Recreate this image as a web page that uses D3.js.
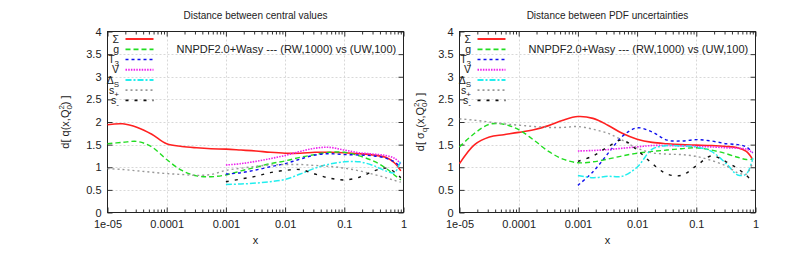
<!DOCTYPE html>
<html><head><meta charset="utf-8">
<script src="https://cdn.jsdelivr.net/npm/d3@7"></script>
<style>
body{margin:0;background:#fff;}
svg text{font-family:"Liberation Sans",Arial,sans-serif;}
</style></head>
<body><svg id="c" width="809" height="271"></svg>
<script>
// ---------- data ----------
const xFull = [1e-5,1.8e-5,3.2e-5,5.6e-5,1e-4,1.8e-4,3.2e-4,5.6e-4,1e-3,1.8e-3,3.2e-3,5.6e-3,0.01,0.018,0.032,0.056,0.1,0.18,0.32,0.5,0.7,0.9];
const xHigh = [1e-3,1.8e-3,3.2e-3,5.6e-3,0.01,0.018,0.032,0.056,0.1,0.18,0.32,0.5,0.7,0.9];

// left panel: distance between central values
const cSigma = [1.94,1.96,1.88,1.73,1.52,1.46,1.43,1.41,1.40,1.38,1.36,1.33,1.31,1.31,1.33,1.33,1.32,1.30,1.27,1.22,1.10,0.92];
const cG     = [1.52,1.55,1.57,1.45,1.17,0.93,0.81,0.79,0.83,0.92,1.00,1.08,1.14,1.22,1.28,1.33,1.33,1.25,1.13,0.98,0.83,0.72];
const cSp    = [0.97,0.95,0.92,0.89,0.86,0.84,0.82,0.84,0.93,0.98,1.02,1.05,1.06,1.06,1.04,1.02,0.98,0.92,0.84,0.77,0.71,0.67];
const cT3    = [0.85,0.88,0.94,1.01,1.08,1.18,1.27,1.30,1.28,1.27,1.25,1.20,1.12,1.00];
const cV     = [1.05,1.08,1.13,1.19,1.26,1.35,1.42,1.44,1.38,1.32,1.29,1.26,1.20,1.08];
const cDS    = [0.62,0.63,0.65,0.68,0.73,0.85,0.98,1.07,1.12,1.12,1.03,0.92,0.88,1.15];
const cSm    = [0.68,0.74,0.80,0.88,0.93,0.95,0.85,0.76,0.72,0.78,0.92,0.98,0.90,0.77];

// right panel: distance between PDF uncertainties
const uSigma = [1.08,1.50,1.67,1.72,1.77,1.83,1.92,2.04,2.12,2.08,1.93,1.75,1.62,1.55,1.52,1.50,1.49,1.48,1.46,1.43,1.35,1.17];
const uG     = [1.45,1.75,1.95,1.95,1.83,1.60,1.35,1.18,1.10,1.12,1.18,1.25,1.31,1.35,1.38,1.41,1.43,1.38,1.30,1.22,1.17,1.18];
const uSp    = [2.07,2.04,2.00,1.96,1.93,1.90,1.88,1.88,1.90,1.84,1.75,1.60,1.42,1.32,1.29,1.28,1.24,1.15,1.03,0.88,0.85,1.12];
const uT3    = [0.60,0.90,1.30,1.68,1.87,1.78,1.60,1.58,1.61,1.58,1.52,1.50,1.45,1.32];
const uV     = [1.36,1.37,1.39,1.42,1.45,1.48,1.48,1.47,1.46,1.45,1.43,1.42,1.40,1.32];
const uDS    = [0.82,0.77,0.80,0.80,1.00,1.40,1.48,1.47,1.45,1.35,1.08,0.83,0.85,1.20];
const uSm    = [1.13,1.25,1.45,1.60,1.38,1.08,0.85,0.82,1.03,1.25,1.12,0.97,0.82,0.68];

const xTicks = [1e-5,1e-4,1e-3,1e-2,1e-1,1];
const xTickLabels = ["1e-05","0.0001","0.001","0.01","0.1","1"];
const yTicks = [0,0.5,1,1.5,2,2.5,3,3.5,4];
const yTickLabels = ["0","0.5","1","1.5","2","2.5","3","3.5","4"];

const legendNames = [["Σ",""],["g",""],["T","3"],["V",""],["Δ","S"],["s","+"],["s","-"]];
const annotation = "NNPDF2.0+Wasy --- (RW,1000) vs (UW,100)";

// ---------- styles ----------
const styles = [
  {color:"#ff2020", dash:null, w:1.6},
  {color:"#22dd22", dash:"5,3", w:1.4},
  {color:"#1010ee", dash:"3,3", w:1.4},
  {color:"#ee22ee", dash:"1.5,1.2", w:1.6},
  {color:"#22eeee", dash:"6,2,2,2", w:1.5},
  {color:"#999999", dash:"2,3", w:1.4},
  {color:"#111111", dash:"3,6", w:1.4}
];

const svg = d3.select("#c");

function panel(opts){
  const L=opts.L, R=opts.R, T=31.5, B=212.5;
  const x = d3.scaleLog().domain([1e-5,1]).range([L,R]);
  const y = d3.scaleLinear().domain([0,4]).range([B,T]);
  const g = svg.append("g");

  // grid
  const gg = g.append("g").attr("stroke","#d8d8d8").attr("stroke-dasharray","2,2").attr("stroke-width",1);
  xTicks.slice(1,-1).forEach(v=>gg.append("line").attr("x1",Math.round(x(v))+0.5).attr("x2",Math.round(x(v))+0.5).attr("y1",T).attr("y2",B));
  yTicks.slice(1,-1).forEach(v=>gg.append("line").attr("x1",L).attr("x2",R).attr("y1",Math.round(y(v))+0.5).attr("y2",Math.round(y(v))+0.5));

  // minor ticks
  const minors=[];
  for(let e=-5;e<0;e++) for(let m=2;m<10;m++) minors.push(m*Math.pow(10,e));

  const fmtX = v=>xTickLabels[xTicks.findIndex(t=>Math.abs(t-v)/v<1e-6)];
  g.append("g").attr("transform",`translate(0,${B})`)
    .call(d3.axisBottom(x).tickValues(xTicks).tickFormat(fmtX).tickSize(-5).tickPadding(8));
  g.append("g").attr("transform",`translate(0,${B})`)
    .call(d3.axisBottom(x).tickValues(minors).tickFormat("").tickSize(-3));
  g.append("g").attr("transform",`translate(0,${T})`)
    .call(d3.axisTop(x).tickValues(xTicks).tickFormat("").tickSize(-5));
  g.append("g").attr("transform",`translate(0,${T})`)
    .call(d3.axisTop(x).tickValues(minors).tickFormat("").tickSize(-3));
  g.append("g").attr("transform",`translate(${L},0)`)
    .call(d3.axisLeft(y).tickValues(yTicks).tickFormat((d,i)=>yTickLabels[i]).tickSize(-5).tickPadding(6));
  g.append("g").attr("transform",`translate(${R},0)`)
    .call(d3.axisRight(y).tickValues(yTicks).tickFormat("").tickSize(-5));
  g.selectAll(".domain").remove();
  g.selectAll(".tick line").attr("stroke","#333");
  g.selectAll(".tick text").attr("font-size",11).attr("fill","#222")
    .attr("font-family","'Liberation Sans',Arial,sans-serif");

  // frame
  g.append("rect").attr("x",L).attr("y",T).attr("width",R-L).attr("height",B-T)
    .attr("fill","none").attr("stroke","#222").attr("stroke-width",1);

  // curves
  const line = d3.line().x(d=>x(d[0])).y(d=>y(d[1])).curve(d3.curveCatmullRom.alpha(0.5));
  opts.series.forEach((s,i)=>{
    const st=styles[i];
    g.append("path").datum(s.xs.map((xv,j)=>[xv,s.ys[j]]))
      .attr("d",line).attr("fill","none").attr("stroke",st.color)
      .attr("stroke-width",st.w).attr("stroke-dasharray",st.dash);
  });

  // legend
  const rowY=[39,49.3,59.5,69.8,80,90.2,100.4];
  legendNames.forEach((n,i)=>{
    const st=styles[i];
    const t=g.append("text").attr("x",L+11.5).attr("y",rowY[i]+3.5).attr("text-anchor","end")
      .attr("font-size",10.5).attr("fill","#222");
    t.append("tspan").text(n[0]);
    if(n[1]) t.append("tspan").attr("dy",3).attr("font-size",8).text(n[1]);
    g.append("line").attr("x1",L+18).attr("x2",L+46).attr("y1",rowY[i]).attr("y2",rowY[i])
      .attr("stroke",st.color).attr("stroke-width",st.w+0.3).attr("stroke-dasharray",st.dash);
  });

  // annotation
  g.append("text").attr("x",L+69).attr("y",53).attr("font-size",11).attr("fill","#222").text(annotation);

  // title
  svg.append("text").attr("x",(L+R)/2).attr("y",19).attr("text-anchor","middle")
    .attr("font-size",10).attr("fill","#222").text(opts.title);
  // x label
  svg.append("text").attr("x",(L+R)/2).attr("y",244).attr("text-anchor","middle")
    .attr("font-size",11).attr("fill","#222").text("x");
  // y label
  const yl = svg.append("text").attr("transform",`translate(${opts.ylx},122) rotate(-90)`)
    .attr("text-anchor","middle").attr("font-size",11).attr("fill","#222");
  opts.ylabel(yl);
}

panel({L:107.5,R:403.5,title:"Distance between central values",ylx:69,
  series:[{xs:xFull,ys:cSigma},{xs:xFull,ys:cG},{xs:xHigh,ys:cT3},{xs:xHigh,ys:cV},{xs:xHigh,ys:cDS},{xs:xFull,ys:cSp},{xs:xHigh,ys:cSm}],
  ylabel:t=>{
    t.append("tspan").text("d[ q(x,Q");
    t.append("tspan").attr("font-size",8).attr("dy",3).text("0");
    t.append("tspan").attr("font-size",8).attr("dx",-4.5).attr("dy",-8).text("2");
    t.append("tspan").attr("dy",5).text(") ]");
  }});
panel({L:459.5,R:755.5,title:"Distance between PDF uncertainties",ylx:424,
  series:[{xs:xFull,ys:uSigma},{xs:xFull,ys:uG},{xs:xHigh,ys:uT3},{xs:xHigh,ys:uV},{xs:xHigh,ys:uDS},{xs:xFull,ys:uSp},{xs:xHigh,ys:uSm}],
  ylabel:t=>{
    t.append("tspan").text("d[ σ");
    t.append("tspan").attr("font-size",8).attr("dy",3).text("q");
    t.append("tspan").attr("dy",-3).text("(x,Q");
    t.append("tspan").attr("font-size",8).attr("dy",3).text("0");
    t.append("tspan").attr("font-size",8).attr("dx",-4.5).attr("dy",-8).text("2");
    t.append("tspan").attr("dy",5).text(") ]");
  }});
</script></body></html>
